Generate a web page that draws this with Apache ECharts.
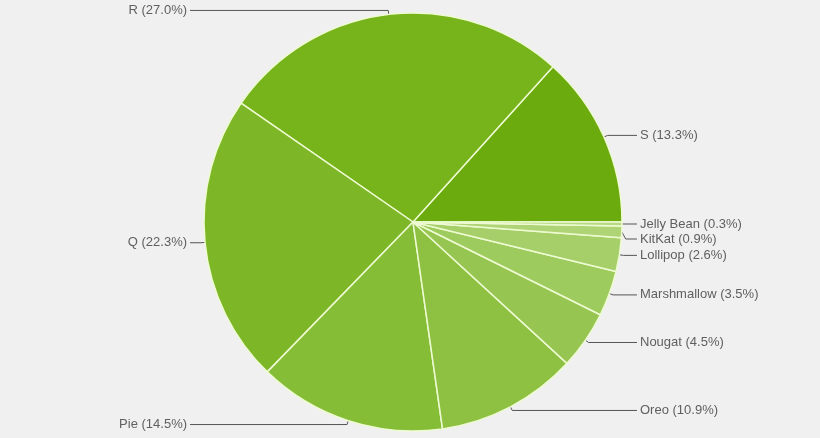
<!DOCTYPE html>
<html>
<head>
<meta charset="utf-8">
<script src="https://cdn.jsdelivr.net/npm/echarts@6/dist/echarts.min.js"></script>
<style>
html,body{margin:0;padding:0;background:#f0f0f0;}
#chart{width:820px;height:438px;}
</style>
</head>
<body>
<div id="chart"></div>
<script>
const categories = ['S','R','Q','Pie','Oreo','Nougat','Marshmallow','Lollipop','KitKat','Jelly Bean'];
const values = [13.3, 27.0, 22.3, 14.5, 10.9, 4.5, 3.5, 2.6, 0.9, 0.3];
const colors = ['#6bab0d','#77b31a','#7db727','#86bd37','#8ec142','#96c651','#9ecb5d','#a6cf69','#aed475','#b7d983'];

const chart = echarts.init(document.getElementById('chart'), null, {renderer:'canvas'});
chart.setOption({
  backgroundColor: '#f0f0f0',
  animation: false,
  series: [{
    type: 'pie',
    center: [413, 222],
    radius: [0, 209],
    startAngle: 0,
    clockwise: false,
    avoidLabelOverlap: true,
    data: categories.map((c, i) => ({name: c, value: values[i], itemStyle: {color: colors[i]}})),
    itemStyle: { borderColor: '#eefbd2', borderWidth: 1.5 },
    label: {
      show: true,
      formatter: (p) => p.name + ' (' + p.value.toFixed(1) + '%)',
      fontFamily: 'Liberation Sans, Arial, sans-serif',
      fontSize: 13,
      color: '#5f5f5f',
      alignTo: 'labelLine',
      distanceToLabelLine: 3
    },
    labelLine: {
      show: true,
      length: 4,
      length2: 11,
      lineStyle: { color: '#555', width: 1 }
    },
    emphasis: { disabled: true }
  }]
});
</script>
</body>
</html>
